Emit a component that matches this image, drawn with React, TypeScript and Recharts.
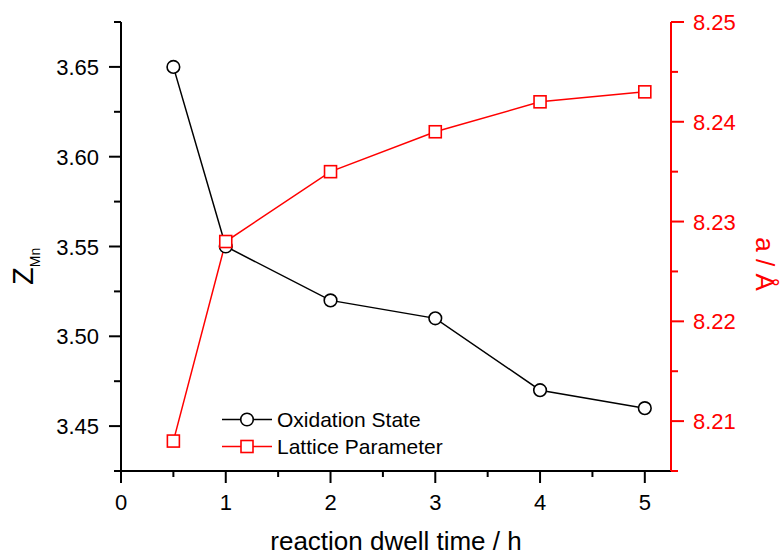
import React from 'react';
import { ComposedChart, Line, XAxis, YAxis, Legend } from 'recharts';

const times = [0.5, 1, 2, 3, 4, 5];
const oxidationState = [3.65, 3.55, 3.52, 3.51, 3.47, 3.46];
const latticeParameter = [8.208, 8.228, 8.235, 8.239, 8.242, 8.243];

const xMajorTicks = [0, 1, 2, 3, 4, 5];
const xMinorTicks = [0.5, 1.5, 2.5, 3.5, 4.5];
const leftMajorTicks = [3.45, 3.5, 3.55, 3.6, 3.65];
const leftMinorTicks = [3.425, 3.475, 3.525, 3.575, 3.625, 3.675];
const rightMajorTicks = [8.21, 8.22, 8.23, 8.24, 8.25];
const rightMinorTicks = [8.205, 8.215, 8.225, 8.235, 8.245];

const seriesNames = ['Oxidation State', 'Lattice Parameter'];
const xLabel = 'reaction dwell time / h';

const FONT = '"Liberation Sans", Arial, sans-serif';
const RED = '#FF0000';
const BLACK = '#000000';

const data = times.map((t, i) => ({ t, ox: oxidationState[i], lat: latticeParameter[i] }));

const sortNum = (a: number[]) => [...a].sort((p, q) => p - q);
const isMajor = (v: number, majors: number[]) => majors.some((m) => Math.abs(m - v) < 1e-9);

const XTick = (props: any) => {
  const { x, y, payload } = props;
  const major = isMajor(payload.value, xMajorTicks);
  return (
    <g>
      <line x1={x} x2={x} y1={y} y2={y + (major ? 12 : 6)} stroke={BLACK} strokeWidth={2} />
      {major && (
        <text x={x} y={y + 38.5} textAnchor="middle" fontSize={22} fontFamily={FONT} fill={BLACK}>
          {String(payload.value)}
        </text>
      )}
    </g>
  );
};

const LeftTick = (props: any) => {
  const { x, y, payload } = props;
  const major = isMajor(payload.value, leftMajorTicks);
  return (
    <g>
      <line x1={x - (major ? 12 : 7)} x2={x} y1={y} y2={y} stroke={BLACK} strokeWidth={2} />
      {major && (
        <text x={x - 22} y={y + 8} textAnchor="end" fontSize={22} fontFamily={FONT} fill={BLACK}>
          {Number(payload.value).toFixed(2)}
        </text>
      )}
    </g>
  );
};

const RightTick = (props: any) => {
  const { x, y, payload } = props;
  const major = isMajor(payload.value, rightMajorTicks);
  return (
    <g>
      <line x1={x} x2={x + (major ? 13 : 7)} y1={y} y2={y} stroke={RED} strokeWidth={2} />
      {major && (
        <text x={x + 22} y={y + 8} textAnchor="start" fontSize={22} fontFamily={FONT} fill={RED}>
          {Number(payload.value).toFixed(2)}
        </text>
      )}
    </g>
  );
};

const SquareDot = (props: any) => {
  const { cx, cy, index } = props;
  if (cx == null || cy == null) return <g key={`sq-${index}`} />;
  return (
    <rect key={`sq-${index}`} x={cx - 6} y={cy - 6} width={12} height={12} fill="#fff" stroke={RED} strokeWidth={1.6} />
  );
};

const LegendContent = () => (
  <div style={{ fontFamily: FONT, fontSize: 21, color: BLACK }}>
    {seriesNames.map((name, i) => (
      <div key={name} style={{ display: 'flex', alignItems: 'center', height: 27 }}>
        <svg width={50} height={27} style={{ display: 'block' }}>
          <line x1={0} x2={50} y1={13.5} y2={13.5} stroke={i === 0 ? BLACK : RED} strokeWidth={1.5} />
          {i === 0 ? (
            <circle cx={25} cy={13.5} r={6.3} fill="#fff" stroke={BLACK} strokeWidth={1.6} />
          ) : (
            <rect x={19} y={7.5} width={12} height={12} fill="#fff" stroke={RED} strokeWidth={1.6} />
          )}
        </svg>
        <span style={{ marginLeft: 5, whiteSpace: 'nowrap' }}>{name}</span>
      </div>
    ))}
  </div>
);

export default function App() {
  return (
    <div style={{ position: 'absolute', left: 0, top: 0, width: 781, height: 556, background: '#fff' }}>
      <ComposedChart width={781} height={556} data={data} margin={{ top: 22, right: 0, bottom: 0, left: 0 }}>
        <XAxis
          dataKey="t"
          type="number"
          domain={[0, 5.25]}
          allowDataOverflow
          ticks={sortNum([...xMajorTicks, ...xMinorTicks])}
          interval={0}
          tickSize={0}
          tickMargin={0}
          tick={<XTick />}
          tickLine={false}
          height={85}
          axisLine={{ stroke: BLACK, strokeWidth: 2 }}
          label={{
            content: () => (
              <text x={396} y={550} textAnchor="middle" fontSize={26} fontFamily={FONT} fill={BLACK}>
                {xLabel}
              </text>
            ),
          }}
        />
        <XAxis
          xAxisId="top"
          orientation="top"
          dataKey="t"
          type="number"
          domain={[0, 5.25]}
          height={0}
          tick={false}
          tickLine={false}
          axisLine={{ stroke: BLACK, strokeWidth: 2 }}
        />
        <YAxis
          yAxisId="left"
          orientation="left"
          type="number"
          domain={[3.425, 3.675]}
          allowDataOverflow
          ticks={sortNum([...leftMajorTicks, ...leftMinorTicks])}
          interval={0}
          tickSize={0}
          tickMargin={0}
          tick={<LeftTick />}
          tickLine={false}
          width={121}
          axisLine={{ stroke: BLACK, strokeWidth: 2 }}
          label={{
            content: () => (
              <text transform="translate(33, 285) rotate(-90)" fontFamily={FONT} fill={BLACK}>
                <tspan fontSize={29}>Z</tspan>
                <tspan fontSize={14} dy={7}>Mn</tspan>
              </text>
            ),
          }}
        />
        <YAxis
          yAxisId="right"
          orientation="right"
          type="number"
          domain={[8.205, 8.25]}
          allowDataOverflow
          ticks={sortNum([...rightMajorTicks, ...rightMinorTicks])}
          interval={0}
          tickSize={0}
          tickMargin={0}
          tick={<RightTick />}
          tickLine={false}
          width={110}
          axisLine={{ stroke: RED, strokeWidth: 2 }}
          label={{
            content: () => (
              <text transform="translate(756, 264) rotate(90)" textAnchor="middle" fontSize={26} fontFamily={FONT} fill={RED}>
                a / Å
              </text>
            ),
          }}
        />
        <Legend
          layout="vertical"
          align="center"
          verticalAlign="middle"
          content={<LegendContent />}
          wrapperStyle={{ position: 'absolute', left: 222, top: 406, width: 'auto', height: 'auto' }}
        />
        <Line
          yAxisId="left"
          type="linear"
          dataKey="ox"
          name={seriesNames[0]}
          stroke={BLACK}
          strokeWidth={1.5}
          dot={{ r: 6.3, fill: '#fff', stroke: BLACK, strokeWidth: 1.6 }}
          activeDot={false}
          isAnimationActive={false}
        />
        <Line
          yAxisId="right"
          type="linear"
          dataKey="lat"
          name={seriesNames[1]}
          stroke={RED}
          strokeWidth={1.5}
          dot={<SquareDot />}
          activeDot={false}
          isAnimationActive={false}
        />
      </ComposedChart>
    </div>
  );
}
